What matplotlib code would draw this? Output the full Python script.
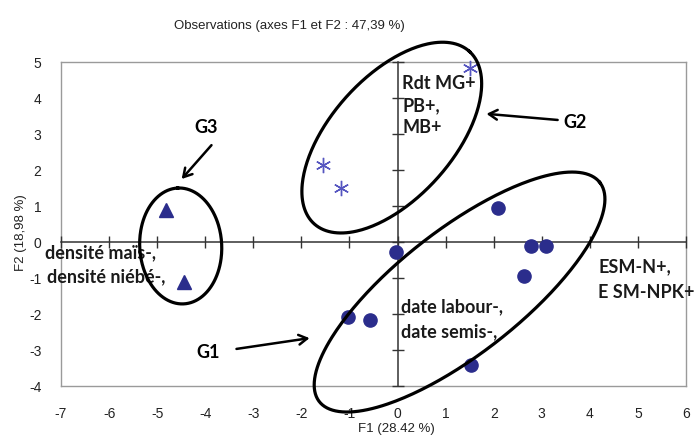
import numpy as np
import matplotlib
matplotlib.use("Agg")
import matplotlib.pyplot as plt

plt.rcParams["axes.unicode_minus"] = False

# observations (F1, F2)
star_x = [1.50, -1.56, -1.18]
star_y = [4.82, 2.14, 1.50]
tri_x = [-4.82, -4.45]
tri_y = [0.89, -1.10]
dot_x = [2.08, 2.77, 3.08, 2.62, -0.04, -1.04, -0.58, 1.52]
dot_y = [0.94, -0.11, -0.11, -0.94, -0.28, -2.08, -2.17, -3.42]

x_ticks = list(range(-7, 7))
y_ticks = list(range(-4, 6))

# groups: centre (data), semi-axes (px), angle (deg)
ell_cx = [1.29, -0.12, -4.51]
ell_cy = [-1.39, 2.90, -0.11]
ell_a = [178, 116, 58]
ell_b = [62, 61, 41]
ell_ang = [38, 48, 93]

plain = ["Liberation Sans", "DejaVu Sans"]
bold_font = ["Lato", "DejaVu Sans"]

fig = plt.figure(figsize=(6.94, 4.38), dpi=100)
pos = [61 / 694, 52 / 438, 625 / 694, 324 / 438]
ax = fig.add_axes(pos)
ax.set_xlim(-7, 6)
ax.set_ylim(-4, 5)
ax.set_xticks(x_ticks)
ax.set_yticks(y_ticks)
ax.tick_params(length=0, labelsize=10, labelcolor="#222222")
ax.tick_params(axis="x", pad=15)
ax.tick_params(axis="y", pad=14)
for lab in ax.get_xticklabels() + ax.get_yticklabels():
    lab.set_family(plain)
for s in ax.spines.values():
    s.set_color("#9a9a9a")
    s.set_linewidth(1.0)

ax.set_title("Observations (axes F1 et F2 : 47,39 %)", family=plain, fontsize=9.5,
             color="#222222", pad=24, x=0.365)
ax.set_xlabel("F1 (28.42 %)", family=plain, fontsize=9.5, color="#222222")
ax.set_ylabel("F2 (18,98 %)", family=plain, fontsize=9.5, color="#222222")
ax.xaxis.set_label_coords(0.537, -0.113)
ax.yaxis.set_label_coords(-0.054, 0.472)

# central axes with cross ticks
ax2 = fig.add_axes(pos, sharex=ax, sharey=ax)
ax2.patch.set_visible(False)
ax2.spines["left"].set_position(("data", 0))
ax2.spines["bottom"].set_position(("data", 0))
ax2.spines["top"].set_visible(False)
ax2.spines["right"].set_visible(False)
for k in ["left", "bottom"]:
    ax2.spines[k].set_color("#333333")
    ax2.spines[k].set_linewidth(1.1)
ax2.tick_params(direction="inout", length=8, width=1.0, color="#333333",
                labelleft=False, labelbottom=False)

ax2.plot(dot_x, dot_y, "o", color="#2b2d8c", ms=9.5, zorder=5)
ax2.plot(tri_x, tri_y, "^", color="#2b2d8c", ms=10, zorder=5)
ax2.plot(star_x, star_y, ls="none", marker=(6, 2, 0), color="#5555c0",
         ms=11, mew=1.0, zorder=5, clip_on=False)

# ellipses drawn in pixel space
fig.canvas.draw()
bb = ax2.get_window_extent()
sx = bb.width / 13.0
sy = bb.height / 9.0
phi = np.linspace(0, 2 * np.pi, 300)
for cx, cy, a, b, t in zip(ell_cx, ell_cy, ell_a, ell_b, ell_ang):
    th = np.radians(t)
    u = a * np.cos(phi)
    v = b * np.sin(phi)
    ex = cx + (u * np.cos(th) - v * np.sin(th)) / sx
    ey = cy + (u * np.sin(th) + v * np.cos(th)) / sy
    ax2.plot(ex, ey, color="black", lw=2.3, clip_on=False, zorder=6)

# group labels and arrows
arrow = dict(arrowstyle="->,head_length=0.6,head_width=0.35", color="black", lw=1.8,
             shrinkA=0, shrinkB=0)
ax2.annotate("", xy=(-4.49, 1.75), xytext=(-3.87, 2.69), arrowprops=arrow)
ax2.annotate("", xy=(1.85, 3.56), xytext=(3.33, 3.39), arrowprops=arrow)
ax2.annotate("", xy=(-1.83, -2.67), xytext=(-3.35, -2.97), arrowprops=arrow)
gkw = dict(family=bold_font, fontweight="bold", fontsize=13, ha="center", va="center")
ax2.text(-3.99, 3.19, "G3", **gkw)
ax2.text(3.70, 3.31, "G2", **gkw)
ax2.text(-3.95, -3.06, "G1", **gkw)

lkw = dict(family=bold_font, fontweight="bold", fontsize=13, ha="left", va="center",
           color="#1a1a1a", clip_on=False)
ax2.text(0.10, 4.39, "Rdt MG+", **lkw)
ax2.text(0.10, 3.78, "PB+,", **lkw)
ax2.text(0.10, 3.19, "MB+", **lkw)
ax2.text(-7.34, -0.31, "densité maïs-,", **lkw)
ax2.text(-7.30, -0.97, "densité niébé-,", **lkw)
ax2.text(0.08, -1.81, "date labour-,", **lkw)
ax2.text(0.08, -2.50, "date semis-,", **lkw)
ax2.text(4.18, -0.69, "ESM-N+,", **lkw)
ax2.text(4.18, -1.39, "E SM-NPK+", **lkw)

fig.savefig("out.png", dpi=100)
